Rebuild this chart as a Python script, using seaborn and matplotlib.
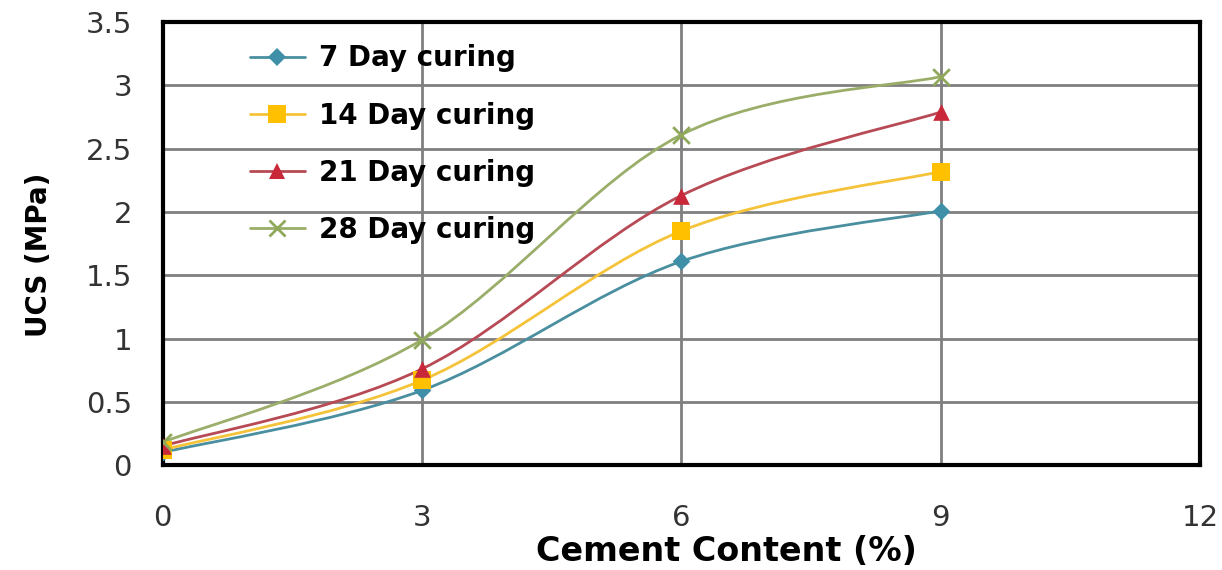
import numpy as np
import pandas as pd
import matplotlib
matplotlib.use("Agg")
import matplotlib.pyplot as plt
import seaborn as sns
from matplotlib.path import Path
from matplotlib.patches import PathPatch
from matplotlib.lines import Line2D

cement = [0, 3, 6, 9]
ucs_7 = [0.10, 0.59, 1.61, 2.01]
ucs_14 = [0.12, 0.67, 1.85, 2.32]
ucs_21 = [0.15, 0.76, 2.13, 2.79]
ucs_28 = [0.18, 0.99, 2.61, 3.07]
labels = ["7 Day curing", "14 Day curing", "21 Day curing", "28 Day curing"]

x_ticks = [0, 3, 6, 9, 12]
y_ticks = [0, 0.5, 1, 1.5, 2, 2.5, 3, 3.5]


def smooth_path(xs, ys):
    # Excel-style smoothed line: cubic bezier through the points
    pts = np.column_stack([xs, ys]).astype(float)
    n = len(pts)
    verts = [pts[0]]
    codes = [Path.MOVETO]
    for i in range(n - 1):
        p0 = pts[i - 1] if i > 0 else pts[i]
        p1 = pts[i]
        p2 = pts[i + 1]
        p3 = pts[i + 2] if i + 2 < n else pts[i + 1]
        c1 = p1 + (p2 - p0) / 6.0
        c2 = p2 - (p3 - p1) / 6.0
        verts += [c1, c2, p2]
        codes += [Path.CURVE4] * 3
    return Path(verts, codes)


sns.set_theme(style="white")
plt.rcParams["font.family"] = ["DejaVu Sans"]

fig = plt.figure(figsize=(12.22, 5.7), dpi=100)
ax = fig.add_axes([0.133, 0.184, 0.849, 0.777])

series = [
    (ucs_7, "#3F8FA8", "D", 9, 2.0),
    (ucs_14, "#FFC000", "s", 13, 2.0),
    (ucs_21, "#C8283A", "^", 12, 2.0),
    (ucs_28, "#8FA85A", "x", 12, 2.0),
]
line_colors = ["#4A8FA0", "#F5C33A", "#B84A55", "#9AAE6A"]

handles = []
for (vals, col, mk, ms, lw), lc, lab in zip(series, line_colors, labels):
    ax.add_patch(PathPatch(smooth_path(cement, vals), facecolor="none",
                           edgecolor=lc, lw=lw, zorder=3))
    df = pd.DataFrame({"x": cement, "y": vals})
    if mk == "x":
        sns.scatterplot(data=df, x="x", y="y", marker="x", s=ms ** 2,
                        color=col, linewidth=2, ax=ax, zorder=4)
    else:
        sns.scatterplot(data=df, x="x", y="y", marker=mk, s=ms ** 2,
                        color=col, edgecolor=col, linewidth=0, ax=ax, zorder=4)
    handles.append(Line2D([0], [0], color=lc, lw=lw, marker=mk, markersize=ms,
                          markerfacecolor=col, markeredgecolor=col,
                          markeredgewidth=2 if mk == "x" else 0))

ax.set_xlim(0, 12)
ax.set_ylim(0, 3.5)
ax.set_xticks(x_ticks)
ax.set_yticks(y_ticks)
ax.set_xticklabels([str(t) for t in x_ticks])
ax.set_yticklabels(["0", "0.5", "1", "1.5", "2", "2.5", "3", "3.5"])
ax.grid(True, color="#808080", lw=2)
ax.set_axisbelow(True)
for sp in ax.spines.values():
    sp.set_color("black")
    sp.set_linewidth(3)
ax.tick_params(axis="both", labelsize=21, colors="#333333", length=0)
ax.tick_params(axis="x", pad=28)
ax.tick_params(axis="y", pad=22)

ax.set_xlabel("Cement Content (%)", fontsize=24, fontweight="bold", color="black")
ax.xaxis.set_label_coords(0.544, -0.158)
ax.set_ylabel("UCS (MPa)", fontsize=20, fontweight="bold", color="black")
ax.yaxis.set_label_coords(-0.106, 0.474)

leg = ax.legend(handles, labels, loc="upper left", bbox_to_anchor=(0.084, 0.95),
                frameon=False, handlelength=2.0, handletextpad=0.5,
                labelspacing=1.05, borderaxespad=0, borderpad=0,
                prop={"weight": "bold", "size": 20})
for t in leg.get_texts():
    t.set_color("black")

fig.savefig("out.png", dpi=100)
